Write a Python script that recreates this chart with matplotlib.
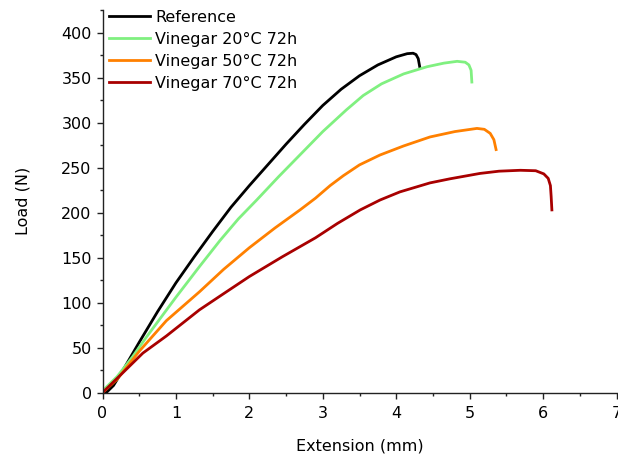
import matplotlib.pyplot as plt
from matplotlib.ticker import MultipleLocator

plt.rcParams['font.family'] = ['DejaVu Sans']

# extension (mm) / load (N)
ref_x = [0.0, 0.05, 0.15, 0.3, 0.5, 0.75, 1.0, 1.25, 1.5, 1.75, 2.0, 2.25, 2.5, 2.75, 3.0,
         3.25, 3.5, 3.75, 4.0, 4.15, 4.23, 4.27, 4.30, 4.32]
ref_y = [0, 0, 8, 28, 56, 90, 122, 151, 179, 206, 230, 253, 276, 298, 319,
         337, 352, 364, 373, 376.5, 377, 375.5, 371, 362]

v20_x = [0.0, 0.2, 0.41, 0.6, 0.8, 1.0, 1.32, 1.6, 1.85, 2.1, 2.4, 2.7, 3.0, 3.32, 3.55,
         3.8, 4.1, 4.42, 4.65, 4.83, 4.94, 4.99, 5.02, 5.03]
v20_y = [2, 18, 40, 62, 84, 106, 140, 169, 193, 214, 240, 265, 290, 314, 330,
         343, 354, 362, 366, 368, 367, 364, 358, 345]

v50_x = [0.0, 0.2, 0.5, 0.87, 1.32, 1.65, 2.0, 2.35, 2.69, 2.9, 3.1, 3.28, 3.5, 3.78, 4.1,
         4.46, 4.8, 5.1, 5.2, 5.28, 5.33, 5.36]
v50_y = [0, 15, 46, 80, 112, 137, 161, 183, 203, 216, 230, 241, 253, 264, 274,
         284, 290, 293.5, 292.5, 288, 281, 270]

v70_x = [0.0, 0.2, 0.55, 0.87, 1.32, 1.65, 2.0, 2.45, 2.9, 3.2, 3.51, 3.78, 4.05, 4.46, 4.73,
         5.14, 5.4, 5.69, 5.9, 6.01, 6.07, 6.10, 6.11, 6.12]
v70_y = [0, 16, 44, 63, 92, 110, 129, 151, 172, 188, 203, 214, 223, 233, 237.5,
         243.5, 246, 247, 246.5, 243, 238, 230, 218, 203]

labels = ['Reference', 'Vinegar 20°C 72h', 'Vinegar 50°C 72h', 'Vinegar 70°C 72h']
colors = ['#000000', '#80f080', '#ff8000', '#a80000']

fig = plt.figure(figsize=(6.18, 4.62), dpi=100)
ax = fig.add_axes([102.5 / 618, 1 - 392.7 / 462, 514 / 618, 382.7 / 462])

series = [(ref_x, ref_y), (v20_x, v20_y), (v50_x, v50_y), (v70_x, v70_y)]
for (xs, ys), lab, col in zip(series, labels, colors):
    ax.plot(xs, ys, color=col, lw=2, label=lab, solid_joinstyle='round')

ax.set_xlim(0, 7)
ax.set_ylim(0, 425)
ax.xaxis.set_major_locator(MultipleLocator(1))
ax.xaxis.set_minor_locator(MultipleLocator(0.5))
ax.yaxis.set_major_locator(MultipleLocator(50))
ax.yaxis.set_minor_locator(MultipleLocator(25))
ax.tick_params(which='major', direction='out', length=4.3, width=1, labelsize=11.5, color='#222222')
ax.tick_params(which='minor', direction='out', length=2.5, width=1, color='#222222')
ax.tick_params(axis='x', which='major', pad=5.5)
ax.tick_params(axis='y', which='major', pad=3.5)
for s in ['top', 'right']:
    ax.spines[s].set_visible(False)
for s in ['left', 'bottom']:
    ax.spines[s].set_linewidth(1)
    ax.spines[s].set_color('#222222')

ax.set_xlabel('Extension (mm)', fontsize=11.5)
ax.set_ylabel('Load (N)', fontsize=11.5)
ax.xaxis.set_label_coords(0.5, -0.12)
ax.yaxis.set_label_coords(-0.141, 0.5)

ax.legend(loc='upper left', bbox_to_anchor=(-0.002, 1.021), frameon=False, fontsize=11.5,
          handlelength=2.56, handletextpad=0.31, labelspacing=0.43, borderpad=0.2,
          borderaxespad=0.3)

fig.savefig('out.png', dpi=100)
